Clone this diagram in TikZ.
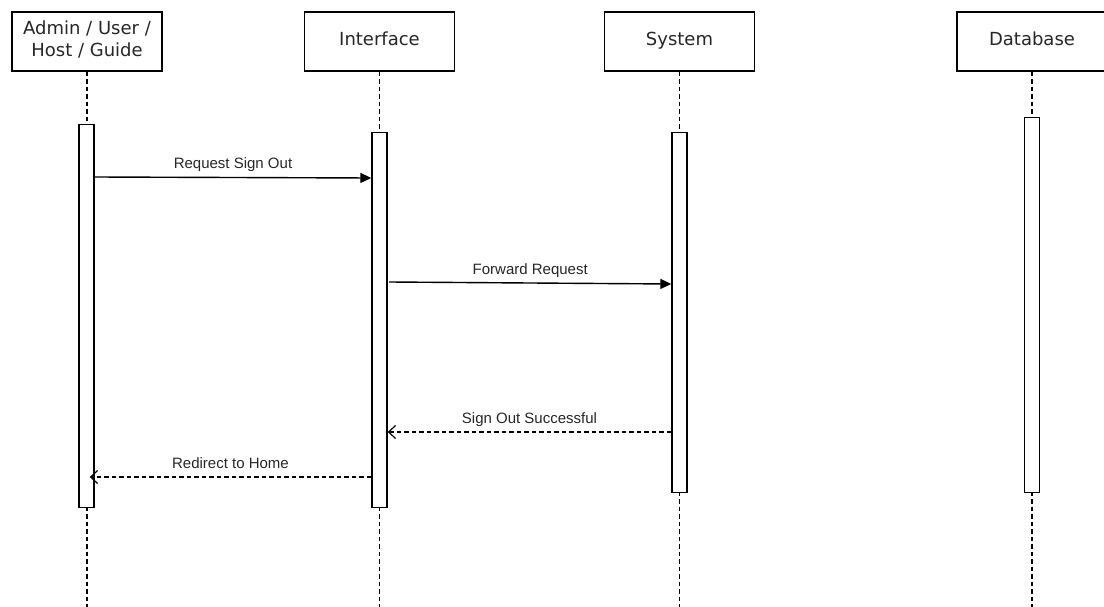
\documentclass[tikz,border=0pt]{standalone}
\usepackage{fontspec}
\setmainfont{DejaVu Sans}
\newfontfamily\labelfont{Liberation Sans}
\usetikzlibrary{arrows.meta}
\begin{document}
\begin{tikzpicture}[x=1pt,y=-1pt,
  header/.style={draw, line width=1.4pt, minimum width=150pt, minimum height=59pt,
    inner sep=0pt, align=center, text=black!85, font=\fontsize{18}{22}\selectfont,
    execute at begin node=\strut, execute at end node=\strut},
  lifeline/.style={line width=1.4pt, dash pattern=on 4.5pt off 3pt},
  actbar/.style={draw, fill=white, line width=1.4pt, minimum width=15pt,
    inner sep=0pt, anchor=north},
  call/.style={line width=1.4pt, -{Triangle[length=11pt,width=10pt]}},
  reply/.style={line width=1.2pt, dash pattern=on 4.5pt off 3pt,
    -{Straight Barb[length=7pt,width=13pt]}},
  msg/.style={midway, anchor=base, yshift=9pt, text=black!85,
    font=\labelfont\fontsize{15}{18}\selectfont}
]
\path[use as bounding box] (0,0) rectangle (1104,607);
\clip (0,0) rectangle (1104,607);

% participants
\node[header] (actor) at (87,41.5) {Admin / User /\\Host / Guide};
\node[header] (iface) at (379.5,41.5) {Interface};
\node[header] (sys) at (679.5,41.5) {System};
\node[header] (db) at (1032,41.5) {Database};

% lifeline ends
\coordinate (actorEnd) at (87,607);
\coordinate (ifaceEnd) at (379.5,607);
\coordinate (sysEnd) at (679.5,607);
\coordinate (dbEnd) at (1032,607);

\draw[lifeline] (actor.south) -- (actorEnd);
\draw[lifeline] (iface.south) -- (ifaceEnd);
\draw[lifeline] (sys.south) -- (sysEnd);
\draw[lifeline] (db.south) -- (dbEnd);

% activation bars
\node[actbar, minimum height=383pt] (actorBar) at (86.5,124) {};
\node[actbar, minimum height=375pt] (ifaceBar) at (379.5,132) {};
\node[actbar, minimum height=360pt] (sysBar) at (679.5,132) {};
\node[actbar, minimum height=375pt] (dbBar) at (1032,117) {};

% messages
\draw[call] (actorBar.east |- 0,177) -- (ifaceBar.west |- 0,178)
  node[msg] {Request Sign Out};
\draw[call] ([xshift=1.5pt]ifaceBar.east |- 0,282) -- (sysBar.west |- 0,284)
  node[msg] {Forward Request};
\draw[reply] (sysBar.west |- 0,432) -- (ifaceBar.east |- 0,432)
  node[msg] {Sign Out Successful};
\draw[reply] (ifaceBar.west |- 0,477) -- ([xshift=-5pt]actorBar.east |- 0,477)
  node[msg] {Redirect to Home};
\end{tikzpicture}
\end{document}
